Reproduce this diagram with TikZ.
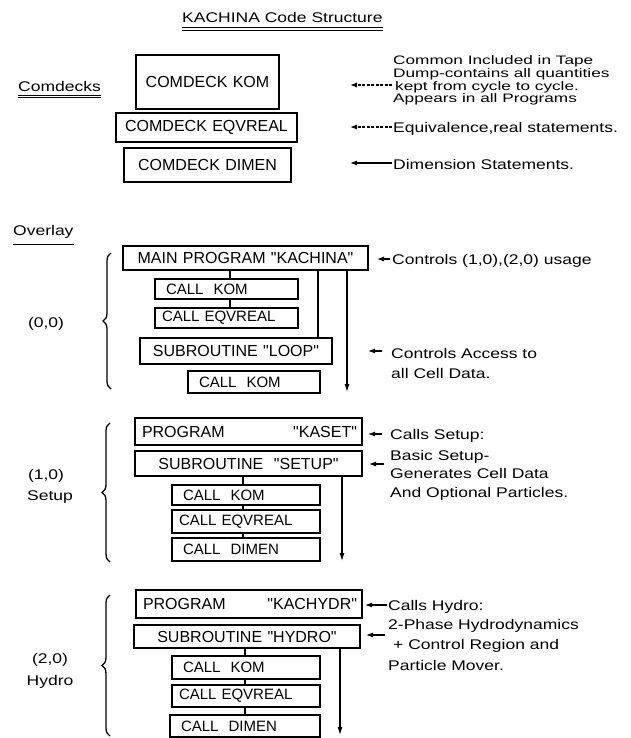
\documentclass[tikz,border=0pt]{standalone}
\usepackage{fontspec}
\setmainfont{Liberation Sans}
\newfontfamily\boxfont{Liberation Sans}
\newfontfamily\notefont[FakeStretch=1.25]{Liberation Sans}
\newfontfamily\notefontw[FakeStretch=1.4]{Liberation Sans}
\usetikzlibrary{arrows.meta,decorations.pathreplacing}
\begin{document}
\begin{tikzpicture}[x=1pt,y=-1pt,
  bx/.style={draw, line width=1.3pt, inner xsep=5pt, inner ysep=0pt, outer sep=0pt, anchor=north west, font=\boxfont\fontsize{16}{18}\selectfont},
  cl/.style={bx, align=left, font=\boxfont\fontsize{15}{18}\selectfont},
  nt/.style={anchor=base west, inner sep=0pt, font=\notefont\fontsize{14}{16}\selectfont},
  ntw/.style={anchor=base west, inner sep=0pt, font=\notefontw\fontsize{12.3}{13}\selectfont},
  lb/.style={inner sep=0pt, font=\notefont\fontsize{14}{16}\selectfont},
  ul/.style={line width=0.9pt},
  arr/.style={line width=1.1pt, -{Latex[length=7pt,width=5pt]}},
  darr/.style={arr, dash pattern=on 3pt off 1.5pt},
  conn/.style={line width=1.1pt},
  varr/.style={line width=1.1pt, -{Latex[length=8pt,width=5pt]}},
  brc/.style={line width=1.3pt, decorate, decoration={brace, amplitude=8pt}},
]
\useasboundingbox (0,0) rectangle (630,738);

% title and headings
\node[nt] (title) at (182,23) {KACHINA Code Structure};
\draw[ul] ([yshift=-4.5pt]title.base west) -- ([yshift=-4.5pt]title.base east);
\draw[ul] ([yshift=-7pt]title.base west) -- ([yshift=-7pt]title.base east);
\node[nt] (comd) at (18,92) {Comdecks};
\draw[ul] ([yshift=-3pt]comd.base west) -- ([yshift=-3pt]comd.base east);
\draw[ul] ([yshift=-5pt]comd.base west) -- ([yshift=-5pt]comd.base east);
\node[nt] (ovl) at (13,235) {Overlay};
\draw[ul] ([yshift=-9pt]ovl.base west) -- ([yshift=-9pt]ovl.base east);

% comdecks
\node[bx, text width=133pt, minimum height=54pt, align=center] (ck) at (136,55) {COMDECK KOM};
\node[bx, text width=171pt, minimum height=29pt, align=center] (ce) at (116,113) {COMDECK EQVREAL};
\node[bx, text width=157pt, minimum height=34pt, align=center] (cd) at (124,148) {COMDECK DIMEN};

\node[ntw] (n1a) at (393,65) {Common Included in Tape};
\node[ntw] (n1b) at (393,78) {Dump-contains all quantities};
\node[ntw] (n1c) at (395,90.5) {kept from cycle to cycle.};
\node[ntw] (n1d) at (393,103) {Appears in all Programs};
\coordinate (t1) at (392,85); \coordinate (h1) at (350,85);
\draw[darr] (t1) -- (h1);
\node[nt] (n2) at (393,133) {Equivalence,real statements.};
\coordinate (t2) at (392,127); \coordinate (h2) at (350,127);
\draw[darr] (t2) -- (h2);
\node[nt] (n3) at (393,169) {Dimension Statements.};
\coordinate (t3) at (392,163); \coordinate (h3) at (350,163);
\draw[arr] (t3) -- (h3);

% (0,0)
\draw[brc] (111,389) -- (111,253);
\node[lb] (l00) at (46,324) {(0,0)};
\node[bx, text width=235pt, minimum height=24pt, align=center] (main) at (123,246) {MAIN PROGRAM "KACHINA"};
\node[cl, text width=133pt, minimum height=20pt] (k1) at (155,279) {\hspace*{6pt}CALL\ \ KOM};
\node[cl, text width=133pt, minimum height=20pt] (e1) at (155,308) {\hspace*{2pt}CALL EQVREAL};
\node[bx, text width=182pt, minimum height=26pt, align=center] (loop) at (140,338) {SUBROUTINE "LOOP"};
\node[cl, text width=122pt, minimum height=22pt] (k2) at (188,371) {\hspace*{6pt}CALL\ \ KOM};
\coordinate (xa) at (230,0);
\draw[conn] (main.south -| xa) -- (k1.north -| xa);
\draw[conn] (k1.south -| xa) -- (e1.north -| xa);
\coordinate (xl) at (318,0);
\draw[conn] (main.south -| xl) -- (loop.north -| xl);
\coordinate (ma) at (347,392);
\draw[varr] (main.south -| ma) -- (ma);
\node[nt] (n4) at (392,264) {Controls (1,0),(2,0) usage};
\coordinate (t4) at (390,259); \coordinate (h4) at (377,259);
\draw[arr] (t4) -- (h4);
\node[nt] (n5a) at (391,358) {Controls Access to};
\node[nt] (n5b) at (391,378) {all Cell Data.};
\coordinate (t5) at (382,351); \coordinate (h5) at (368,351);
\draw[arr] (t5) -- (h5);

% (1,0) Setup
\draw[brc] (110,562) -- (110,423);
\node[lb] (l10) at (46,476) {(1,0)};
\node[lb] (lset) at (50,497) {Setup};
\node[bx, text width=217pt, minimum height=27pt, align=left] (kaset) at (135,418) {\hspace*{2pt}PROGRAM\hfill"KASET"};
\node[bx, text width=217pt, minimum height=25pt, align=center] (setup) at (135,451) {SUBROUTINE\ \ "SETUP"};
\node[cl, text width=138pt, minimum height=20pt] (k3) at (172,485) {\hspace*{6pt}CALL\ \ KOM};
\node[cl, text width=138pt, minimum height=23pt] (e3) at (172,510) {\hspace*{2pt}CALL EQVREAL};
\node[cl, text width=138pt, minimum height=23pt] (d3) at (172,538) {\hspace*{6pt}CALL\ \ DIMEN};
\coordinate (xb) at (243,0);
\draw[conn] (setup.south -| xb) -- (k3.north -| xb);
\draw[conn] (k3.south -| xb) -- (e3.north -| xb);
\draw[conn] (e3.south -| xb) -- (d3.north -| xb);
\coordinate (sa) at (342,561);
\draw[varr] (setup.south -| sa) -- (sa);
\node[nt] (n6) at (390,439) {Calls Setup:};
\coordinate (t6) at (382,434); \coordinate (h6) at (368,434);
\draw[arr] (t6) -- (h6);
\node[nt] (n7a) at (390,460) {Basic Setup-};
\node[nt] (n7b) at (390,478) {Generates Cell Data};
\node[nt] (n7c) at (390,497) {And Optional Particles.};
\coordinate (t7) at (384,464); \coordinate (h7) at (369,464);
\draw[arr] (t7) -- (h7);

% (2,0) Hydro
\draw[brc] (110,736) -- (110,595);
\node[lb] (l20) at (50,660) {(2,0)};
\node[lb] (lhyd) at (50,682) {Hydro};
\node[bx, text width=216pt, minimum height=28pt, align=left] (kach) at (136,590) {\hspace*{2pt}PROGRAM\hfill"KACHYDR"};
\node[bx, text width=216pt, minimum height=23pt, align=center] (hydro) at (134,625) {SUBROUTINE "HYDRO"};
\node[cl, text width=138pt, minimum height=23pt] (k4) at (172,656) {\hspace*{6pt}CALL\ \ KOM};
\node[cl, text width=138pt, minimum height=22pt] (e4) at (172,685) {\hspace*{2pt}CALL EQVREAL};
\node[cl, text width=140pt, minimum height=22pt] (d4) at (170,715) {\hspace*{6pt}CALL\ \ DIMEN};
\coordinate (xc) at (245,0);
\draw[conn] (hydro.south -| xc) -- (k4.north -| xc);
\draw[conn] (k4.south -| xc) -- (e4.north -| xc);
\draw[conn] (e4.south -| xc) -- (d4.north -| xc);
\coordinate (ha) at (340,735);
\draw[varr] (hydro.south -| ha) -- (ha);
\node[nt] (n8) at (388,610) {Calls Hydro:};
\coordinate (t8) at (387,605); \coordinate (h8) at (365,605);
\draw[arr] (t8) -- (h8);
\node[nt] (n9a) at (388,629) {2-Phase Hydrodynamics};
\node[nt] (n9b) at (393,649) {+ Control Region and};
\node[nt] (n9c) at (388,670) {Particle Mover.};
\coordinate (t9) at (385,635); \coordinate (h9) at (366,635);
\draw[arr] (t9) -- (h9);
\end{tikzpicture}
\end{document}
